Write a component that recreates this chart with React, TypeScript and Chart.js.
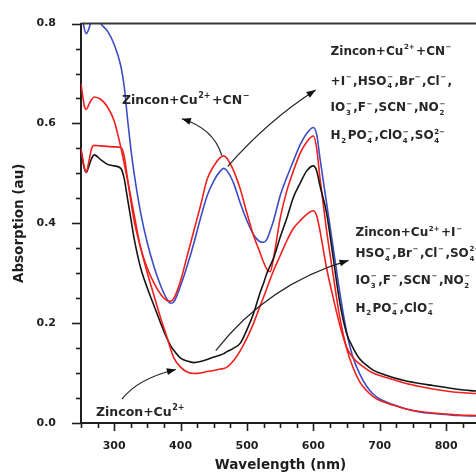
import React, { useEffect, useRef } from 'react';
import { Chart, registerables } from 'chart.js';

Chart.register(...registerables);

// ---------- data ----------
const wavelengths = [250, 255, 258, 262, 266, 270, 280, 290, 300, 310, 315, 320, 325, 330, 340, 350, 360, 370, 380, 385, 390, 400, 410, 420, 430, 440, 450, 460, 465, 470, 480, 490, 500, 510, 520, 525, 530, 535, 540, 550, 560, 570, 580, 590, 600, 605, 610, 620, 630, 640, 650, 660, 670, 680, 690, 700, 720, 740, 760, 780, 800, 820, 845];

// Zincon+Cu2++CN- (blue)
const blueCuCN = [0.83, 0.79, 0.78, 0.79, 0.81, 0.83, 0.8, 0.785, 0.758, 0.715, 0.675, 0.61, 0.55, 0.5, 0.42, 0.36, 0.313, 0.275, 0.247, 0.24, 0.243, 0.275, 0.315, 0.36, 0.41, 0.455, 0.485, 0.505, 0.51, 0.505, 0.48, 0.44, 0.405, 0.377, 0.363, 0.362, 0.368, 0.385, 0.405, 0.455, 0.492, 0.525, 0.557, 0.58, 0.592, 0.578, 0.53, 0.44, 0.35, 0.26, 0.183, 0.13, 0.098, 0.074, 0.058, 0.048, 0.037, 0.028, 0.022, 0.019, 0.017, 0.015, 0.014];

// Zincon+Cu2++CN- + interferents (upper red)
const redCuCNMix = [0.68, 0.635, 0.628, 0.638, 0.648, 0.653, 0.648, 0.633, 0.605, 0.552, 0.52, 0.487, 0.453, 0.418, 0.35, 0.31, 0.28, 0.258, 0.245, 0.244, 0.25, 0.285, 0.335, 0.385, 0.435, 0.488, 0.515, 0.532, 0.535, 0.53, 0.505, 0.468, 0.42, 0.375, 0.34, 0.322, 0.308, 0.303, 0.33, 0.41, 0.465, 0.505, 0.54, 0.563, 0.575, 0.55, 0.49, 0.385, 0.295, 0.21, 0.15, 0.11, 0.082, 0.065, 0.053, 0.045, 0.036, 0.028, 0.023, 0.02, 0.018, 0.016, 0.015];

// Zincon+Cu2+ (black)
const blackCu = [0.545, 0.51, 0.502, 0.515, 0.53, 0.537, 0.527, 0.518, 0.515, 0.51, 0.49, 0.45, 0.41, 0.37, 0.31, 0.27, 0.235, 0.2, 0.168, 0.155, 0.145, 0.13, 0.124, 0.121, 0.123, 0.127, 0.132, 0.136, 0.139, 0.143, 0.15, 0.16, 0.187, 0.22, 0.262, 0.28, 0.3, 0.315, 0.33, 0.372, 0.41, 0.452, 0.48, 0.505, 0.515, 0.505, 0.475, 0.42, 0.33, 0.24, 0.18, 0.15, 0.128, 0.116, 0.106, 0.1, 0.091, 0.084, 0.079, 0.075, 0.071, 0.067, 0.064];

// Zincon+Cu2++I- + interferents (lower red)
const redCuIMix = [0.55, 0.512, 0.503, 0.525, 0.55, 0.556, 0.555, 0.554, 0.553, 0.552, 0.535, 0.49, 0.445, 0.405, 0.35, 0.3, 0.255, 0.21, 0.17, 0.148, 0.13, 0.112, 0.102, 0.099, 0.1, 0.103, 0.105, 0.108, 0.109, 0.112, 0.125, 0.145, 0.17, 0.2, 0.235, 0.252, 0.27, 0.288, 0.305, 0.335, 0.365, 0.39, 0.405, 0.418, 0.425, 0.415, 0.385, 0.31, 0.25, 0.195, 0.152, 0.13, 0.118, 0.108, 0.1, 0.095, 0.087, 0.079, 0.073, 0.068, 0.064, 0.061, 0.059];

const xMajorTicks = [300, 400, 500, 600, 700, 800];
const yMajorTicks = [0, 0.2, 0.4, 0.6, 0.8];
const xTitle = 'Wavelength (nm)';
const yTitle = 'Absorption (au)';

type Seg = string | { sup?: string; sub?: string };

const textCuCN: Seg[] = ['Zincon+Cu', { sup: '2+' }, '+CN', { sup: '\u2212' }];
const textCuCNMix: Seg[][] = [
  ['Zincon+Cu', { sup: '2+' }, '+CN', { sup: '\u2212' }],
  ['+I', { sup: '\u2212' }, ',HSO', { sub: '4', sup: '\u2212' }, ',Br', { sup: '\u2212' }, ',Cl', { sup: '\u2212' }, ','],
  ['IO', { sub: '3', sup: '\u2212' }, ',F', { sup: '\u2212' }, ',SCN', { sup: '\u2212' }, ',NO', { sub: '2', sup: '\u2212' }],
  ['H', { sub: '2' }, 'PO', { sub: '4', sup: '\u2212' }, ',ClO', { sub: '4', sup: '\u2212' }, ',SO', { sub: '4', sup: '2\u2212' }],
];
const textCuIMix: Seg[][] = [
  ['Zincon+Cu', { sup: '2+' }, '+I', { sup: '\u2212' }],
  ['HSO', { sub: '4', sup: '\u2212' }, ',Br', { sup: '\u2212' }, ',Cl', { sup: '\u2212' }, ',SO', { sub: '4', sup: '2\u2212' }],
  ['IO', { sub: '3', sup: '\u2212' }, ',F', { sup: '\u2212' }, ',SCN', { sup: '\u2212' }, ',NO', { sub: '2', sup: '\u2212' }],
  ['H', { sub: '2' }, 'PO', { sub: '4', sup: '\u2212' }, ',ClO', { sub: '4', sup: '\u2212' }],
];
const textCu: Seg[] = ['Zincon+Cu', { sup: '2+' }];

// annotation anchors, in data units (wavelength, absorbance): baseline-left of each line
const labelCuCNAt = [311.7, 0.638];
const labelCuCNMixX = 626;
const labelCuCNMixY = [0.737, 0.6775, 0.624, 0.568];
const labelCuIMixX = 663.5;
const labelCuIMixY = [0.374, 0.332, 0.2785, 0.223];
const labelCuAt = [272.6, 0.0145];

// arrows: start, control, tip (data units)
const arrows = [
  [[462, 0.536], [450, 0.5896], [401.9, 0.6094]],
  [[471.1, 0.514], [531.2, 0.6055], [603.4, 0.667]],
  [[453, 0.1449], [531.2, 0.2779], [653, 0.3256]],
  [[311.7, 0.0476], [335.7, 0.0893], [392.9, 0.1072]],
];

const X_MIN = 250;
const X_MAX = 845;
const X_MINOR = 25;
const Y_MIN = 0;
const Y_MAX = 0.8;
const Y_MINOR = 0.05;

const FONT = '"DejaVu Sans", "Liberation Sans", Arial, sans-serif';
const INK = '#1e1e1e';

function drawRich(ctx: CanvasRenderingContext2D, x: number, y: number, segs: Seg[], fs: number) {
  const main = `bold ${fs}px ${FONT}`;
  const small = `bold ${Math.round(fs * 0.62)}px ${FONT}`;
  ctx.textBaseline = 'alphabetic';
  ctx.textAlign = 'left';
  let cx = x;
  for (const s of segs) {
    if (typeof s === 'string') {
      ctx.font = main;
      ctx.fillText(s, cx, y);
      cx += ctx.measureText(s).width + 0.6;
    } else {
      ctx.font = small;
      let w = 0;
      if (s.sup) {
        ctx.fillText(s.sup, cx, y - fs * 0.48);
        w = Math.max(w, ctx.measureText(s.sup).width);
      }
      if (s.sub) {
        ctx.fillText(s.sub, cx, y + fs * 0.3);
        w = Math.max(w, ctx.measureText(s.sub).width);
      }
      cx += w + 1.5;
    }
  }
}

const overlayPlugin = {
  id: 'overlay',
  afterDraw(chart: any) {
    const { ctx, chartArea: ca, scales } = chart;
    const xs = scales.x;
    const ys = scales.y;
    const px = (v: number) => xs.getPixelForValue(v);
    const py = (v: number) => ys.getPixelForValue(v);
    ctx.save();

    // top frame
    ctx.strokeStyle = '#3a3a3a';
    ctx.lineWidth = 2;
    ctx.beginPath();
    ctx.moveTo(ca.left, ca.top);
    ctx.lineTo(ca.right, ca.top);
    ctx.stroke();

    // ticks
    ctx.strokeStyle = INK;
    ctx.lineWidth = 1.6;
    for (let v = X_MIN; v <= X_MAX + 1e-6; v += X_MINOR) {
      const major = xMajorTicks.includes(v);
      const x = Math.round(px(v)) + 0.5;
      ctx.beginPath();
      ctx.moveTo(x, ca.bottom);
      ctx.lineTo(x, ca.bottom + (major ? 8 : 5));
      ctx.stroke();
    }
    const nY = Math.round((Y_MAX - Y_MIN) / Y_MINOR);
    for (let i = 0; i <= nY; i++) {
      const v = Y_MIN + i * Y_MINOR;
      const major = yMajorTicks.some((m) => Math.abs(m - v) < 1e-6);
      const y = Math.round(py(v)) + 0.5;
      ctx.beginPath();
      ctx.moveTo(ca.left, y);
      ctx.lineTo(ca.left - (major ? 9 : 5), y);
      ctx.stroke();
    }

    // axis titles
    ctx.fillStyle = INK;
    ctx.font = `bold 13.5px ${FONT}`;
    ctx.textAlign = 'center';
    ctx.textBaseline = 'middle';
    ctx.fillText(xTitle, (ca.left + ca.right) / 2 + 2, 465);
    ctx.save();
    ctx.translate(19, (ca.top + ca.bottom) / 2);
    ctx.rotate(-Math.PI / 2);
    ctx.fillText(yTitle, 0, 0);
    ctx.restore();

    // annotation texts
    ctx.fillStyle = '#262626';
    const fs = 12.5;
    drawRich(ctx, px(labelCuCNAt[0]), py(labelCuCNAt[1]), textCuCN, fs);
    textCuCNMix.forEach((line, i) => drawRich(ctx, px(labelCuCNMixX), py(labelCuCNMixY[i]), line, 12));
    textCuIMix.forEach((line, i) => drawRich(ctx, px(labelCuIMixX), py(labelCuIMixY[i]), line, 12));
    drawRich(ctx, px(labelCuAt[0]), py(labelCuAt[1]), textCu, fs);

    // arrows
    ctx.strokeStyle = '#222';
    ctx.fillStyle = '#111';
    ctx.lineWidth = 1.2;
    for (const a of arrows) {
      const [s, c, t] = a.map((p) => [px(p[0]), py(p[1])]);
      ctx.beginPath();
      ctx.moveTo(s[0], s[1]);
      ctx.quadraticCurveTo(c[0], c[1], t[0], t[1]);
      ctx.stroke();
      const ang = Math.atan2(t[1] - c[1], t[0] - c[0]);
      const L = 9;
      const W = 3.5;
      ctx.beginPath();
      ctx.moveTo(t[0], t[1]);
      ctx.lineTo(t[0] - L * Math.cos(ang) + W * Math.sin(ang), t[1] - L * Math.sin(ang) - W * Math.cos(ang));
      ctx.lineTo(t[0] - L * Math.cos(ang) - W * Math.sin(ang), t[1] - L * Math.sin(ang) + W * Math.cos(ang));
      ctx.closePath();
      ctx.fill();
    }
    ctx.restore();
  },
};

function series(vals: number[]) {
  return wavelengths.map((w, i) => ({ x: w, y: vals[i] }));
}

export default function App() {
  const ref = useRef<HTMLCanvasElement | null>(null);
  useEffect(() => {
    if (!ref.current) return;
    const common = { pointRadius: 0, borderWidth: 1.6, fill: false, cubicInterpolationMode: 'monotone' as const };
    const chart = new Chart(ref.current, {
      type: 'line',
      data: {
        datasets: [
          { label: 'Zincon+Cu2++I- mix', data: series(redCuIMix), borderColor: '#f0201c', ...common },
          { label: 'Zincon+Cu2+', data: series(blackCu), borderColor: '#151515', ...common },
          { label: 'Zincon+Cu2++CN- mix', data: series(redCuCNMix), borderColor: '#f0201c', ...common },
          { label: 'Zincon+Cu2++CN-', data: series(blueCuCN), borderColor: '#3c4cc4', ...common },
        ],
      },
      options: {
        responsive: false,
        devicePixelRatio: 1,
        animation: false,
        layout: { padding: { top: 20, left: 0, right: 0, bottom: 0 } },
        plugins: { legend: { display: false }, tooltip: { enabled: false } },
        scales: {
          x: {
            type: 'linear',
            min: X_MIN,
            max: X_MAX,
            grid: { display: false },
            border: { display: true, color: INK, width: 2 },
            ticks: {
              stepSize: X_MINOR,
              autoSkip: false,
              maxRotation: 0,
              padding: 9,
              color: INK,
              font: { family: FONT, size: 11, weight: 'bold' },
              callback: (v: any) => (xMajorTicks.includes(Number(v)) ? String(v) : ''),
            },
            afterFit: (s: any) => {
              s.height = 51;
              s.paddingLeft = 0;
              s.paddingRight = 0;
            },
          },
          y: {
            type: 'linear',
            min: Y_MIN,
            max: Y_MAX,
            grid: { display: false },
            border: { display: true, color: INK, width: 2 },
            ticks: {
              stepSize: Y_MINOR,
              autoSkip: false,
              padding: 17,
              color: INK,
              font: { family: FONT, size: 11, weight: 'bold' },
              callback: (v: any) => {
                const m = yMajorTicks.find((t) => Math.abs(t - Number(v)) < 1e-6);
                return m === undefined ? '' : m.toFixed(1);
              },
            },
            afterFit: (s: any) => {
              s.width = 81;
            },
          },
        },
      },
      plugins: [overlayPlugin],
    });
    return () => chart.destroy();
  }, []);
  return (
    <div style={{ position: 'fixed', left: 0, top: 0, width: 476, height: 474, background: '#fff' }}>
      <canvas ref={ref} width={476} height={474} />
    </div>
  );
}
